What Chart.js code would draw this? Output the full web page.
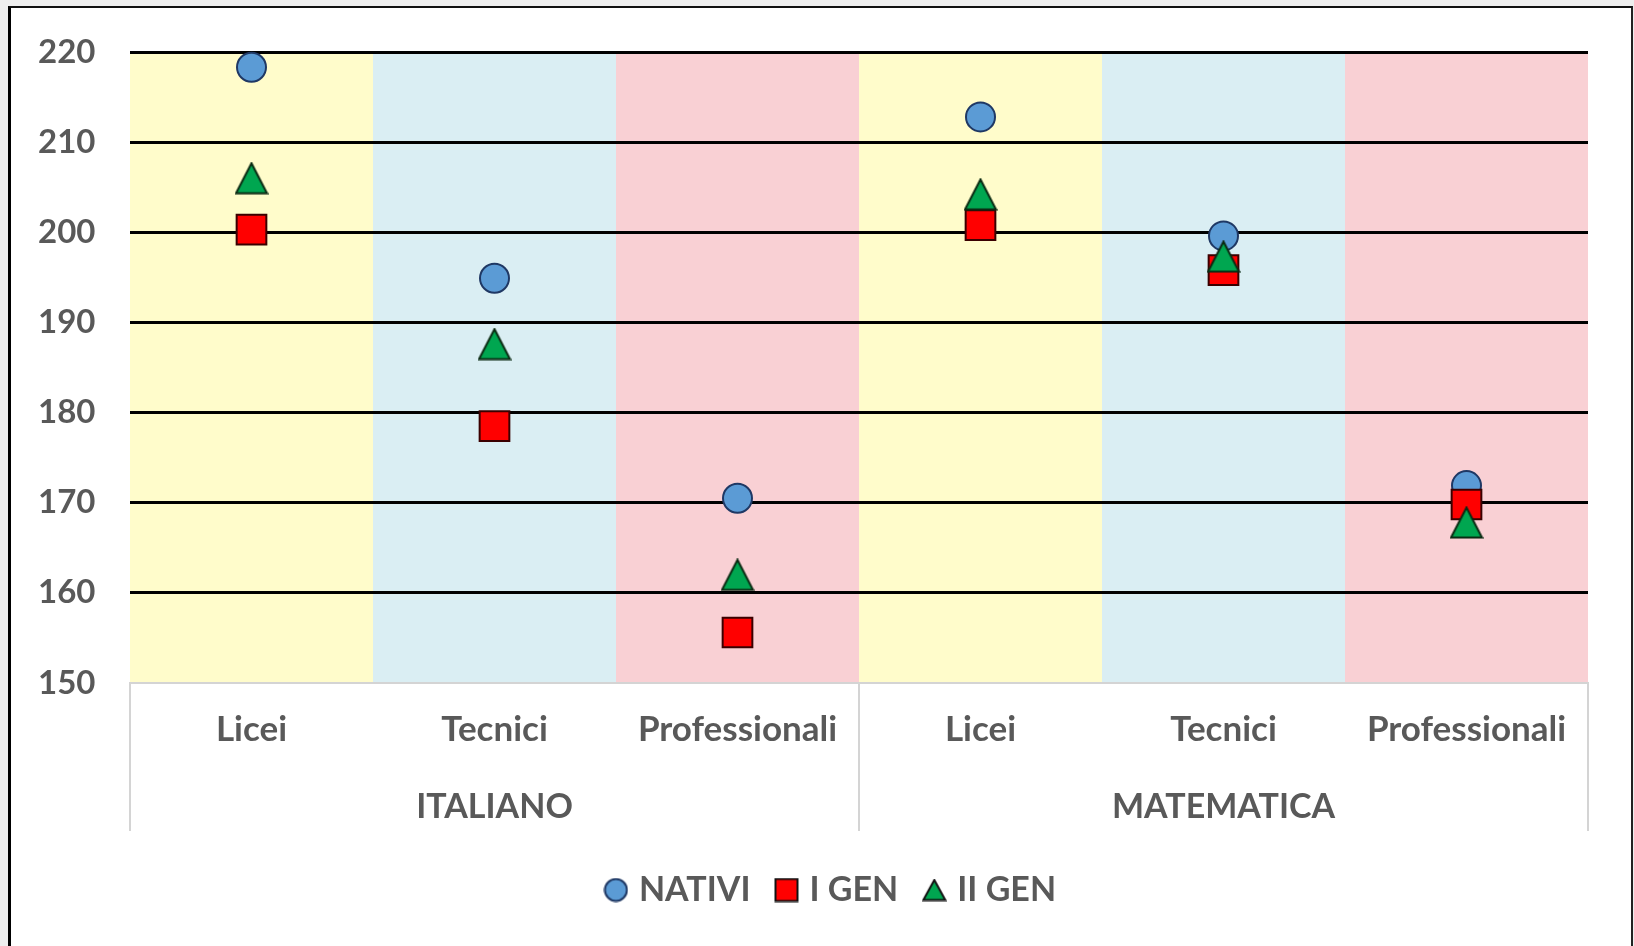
<!DOCTYPE html>
<html>
<head>
<meta charset="utf-8">
<script src="https://cdn.jsdelivr.net/npm/chart.js@4.4.0/dist/chart.umd.min.js"></script>
<style>
  html, body { margin: 0; padding: 0; width: 1634px; height: 946px; overflow: hidden; background: #eeeeee; }
  #frame { position: absolute; left: 8px; top: 6px; width: 1625px; height: 970px; box-sizing: border-box;
           border-left: 3px solid #000; border-top: 2px solid #111; border-right: 2px solid #222; background: #fff; }
  #wrap { position: absolute; left: 0; top: 0; width: 1634px; height: 946px; }
</style>
</head>
<body>
<div id="frame"></div>
<div id="wrap"><canvas id="c" width="1634" height="946"></canvas></div>
<script>
// ---- data ----
const SCHOOLS = ['Licei', 'Tecnici', 'Professionali', 'Licei', 'Tecnici', 'Professionali'];
const SUBJECTS = ['ITALIANO', 'MATEMATICA'];
const SERIES_NAMES = ['NATIVI', 'I GEN', 'II GEN'];
const NATIVI = [218.3, 194.9, 170.5, 212.8, 199.6, 171.9];
const I_GEN  = [200.3, 178.5, 155.6, 200.8, 195.8, 169.8];
const II_GEN = [206.0, 187.6, 162.0, 204.2, 197.3, 167.8];
const Y_MIN = 150;
const Y_MAX = 220;
const Y_STEP = 10;
const BAND_COLORS = ['#FFFCCB', '#DAEEF3', '#F9D0D4'];

const TEXT = '#595959';
const TICK_FONT = { family: 'Lato', weight: 'bold', size: 33 };
const CAT_FONT = { family: 'Lato', weight: 'bold', size: 35 };
const GROUP_FONT = { family: 'Lato', weight: 'bold', size: 34 };
const LEGEND_FONT = { family: 'Lato', weight: 'bold', size: 34 };

const COLORS = {
  nativi: { fill: '#5B9BD5', stroke: '#1F3864' },
  igen:   { fill: '#FF0000', stroke: '#3A0000' },
  iigen:  { fill: '#00A650', stroke: '#0A2A12' }
};

// marker icon drawn centred in its own box (like the original markers)
function makeIcon(shape, w, h, fill, stroke) {
  const c = document.createElement('canvas');
  c.width = w; c.height = h;
  const g = c.getContext('2d');
  g.fillStyle = fill; g.strokeStyle = stroke; g.lineWidth = 2; g.lineJoin = 'miter';
  g.beginPath();
  if (shape === 'triangle') {
    g.moveTo(w / 2, 1.5); g.lineTo(w - 1.5, h - 1.5); g.lineTo(1.5, h - 1.5); g.closePath();
  } else if (shape === 'rect') {
    g.rect(1.5, 1.5, w - 3, h - 3);
  } else {
    g.arc(w / 2, h / 2, Math.min(w, h) / 2 - 1.5, 0, Math.PI * 2);
  }
  g.fill(); g.stroke();
  return c;
}

const TRIANGLE_MARK = makeIcon('triangle', 34, 33, COLORS.iigen.fill, COLORS.iigen.stroke);
const LEGEND_ICONS = [
  makeIcon('circle', 25, 25, COLORS.nativi.fill, COLORS.nativi.stroke),
  makeIcon('rect', 25, 25, COLORS.igen.fill, '#111'),
  makeIcon('triangle', 25, 23, COLORS.iigen.fill, '#111')
];

const bandsPlugin = {
  id: 'bands',
  beforeDraw(chart) {
    const { ctx, chartArea, scales } = chart;
    const x = scales.x;
    ctx.save();
    SCHOOLS.forEach((s, i) => {
      const l = x.getPixelForValue(i - 0.5);
      const r = x.getPixelForValue(i + 0.5);
      ctx.fillStyle = BAND_COLORS[i % BAND_COLORS.length];
      ctx.fillRect(l, chartArea.top, r - l, chartArea.bottom - chartArea.top);
    });
    ctx.restore();
  }
};

const separatorPlugin = {
  id: 'separators',
  afterDraw(chart) {
    const { ctx, chartArea, scales } = chart;
    const x2 = scales.x2;
    ctx.save();
    ctx.strokeStyle = '#d4d4d4';
    ctx.lineWidth = 2;
    for (let g = 0; g <= SUBJECTS.length; g++) {
      const px = Math.round(x2.getPixelForValue(g - 0.5));
      ctx.beginPath();
      ctx.moveTo(px, chartArea.bottom);
      ctx.lineTo(px, 831);
      ctx.stroke();
    }
    ctx.restore();
  }
};

const legendShift = {
  id: 'legendShift',
  afterLayout(chart) {
    if (chart.legend) { chart.legend.left += 20; chart.legend.right += 20; }
  }
};

function ds(label, data, style, fill, stroke, radius, order) {
  return {
    label, data, order,
    showLine: false,
    pointStyle: style,
    backgroundColor: fill,
    borderColor: stroke,
    borderWidth: 2,
    pointBackgroundColor: fill,
    pointBorderColor: stroke,
    pointBorderWidth: 2,
    pointRadius: radius,
    pointHoverRadius: radius,
    clip: false
  };
}

new Chart(document.getElementById('c'), {
  type: 'line',
  data: {
    labels: SCHOOLS,
    datasets: [
      ds(SERIES_NAMES[0], NATIVI, 'circle', COLORS.nativi.fill, COLORS.nativi.stroke, 14.5, 3),
      ds(SERIES_NAMES[1], I_GEN, 'rect', COLORS.igen.fill, COLORS.igen.stroke, 21, 2),
      ds(SERIES_NAMES[2], II_GEN, TRIANGLE_MARK, COLORS.iigen.fill, COLORS.iigen.stroke, 17, 1)
    ]
  },
  options: {
    responsive: false,
    devicePixelRatio: 1,
    animation: false,
    layout: { padding: { left: 38, right: 46, top: 52, bottom: 29 } },
    plugins: {
      tooltip: { enabled: false },
      legend: {
        position: 'bottom',
        labels: {
          usePointStyle: true,
          boxHeight: 18,
          boxWidth: 12,
          padding: 30,
          color: TEXT,
          font: LEGEND_FONT,
          sort: (a, b) => a.datasetIndex - b.datasetIndex,
          generateLabels(chart) {
            const items = Chart.defaults.plugins.legend.labels.generateLabels(chart);
            items.forEach(it => { it.pointStyle = LEGEND_ICONS[it.datasetIndex]; });
            return items;
          }
        }
      }
    },
    scales: {
      x: {
        type: 'category',
        offset: true,
        grid: { display: false, drawTicks: false },
        border: { display: true, color: '#d4d4d4', width: 2 },
        ticks: { color: TEXT, font: CAT_FONT, padding: 26, maxRotation: 0 },
        afterFit(scale) { scale.height = 85; }
      },
      x2: {
        type: 'category',
        position: 'bottom',
        labels: SUBJECTS,
        offset: true,
        grid: { display: false, drawTicks: false },
        border: { display: false },
        ticks: { color: TEXT, font: GROUP_FONT, padding: 19, maxRotation: 0 },
        afterFit(scale) { scale.height = 75; }
      },
      y: {
        min: Y_MIN,
        max: Y_MAX,
        ticks: { stepSize: Y_STEP, color: TEXT, font: TICK_FONT, padding: 0, crossAlign: 'far' },
        grid: {
          drawTicks: false,
          lineWidth: 3,
          color: (c) => (c.tick && c.tick.value === Y_MIN) ? 'rgba(0,0,0,0)' : '#000000'
        },
        border: { display: false },
        afterFit(scale) { scale.width = 92; }
      }
    }
  },
  plugins: [bandsPlugin, separatorPlugin, legendShift]
});
</script>
</body>
</html>
